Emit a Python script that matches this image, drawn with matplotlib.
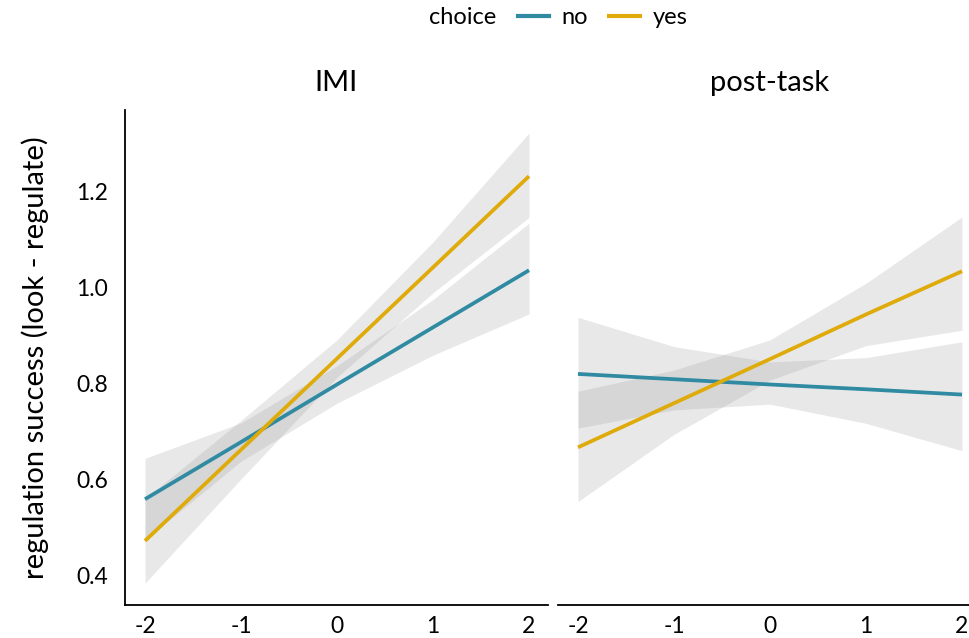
import matplotlib
matplotlib.use("Agg")
import matplotlib.pyplot as plt
from matplotlib.lines import Line2D
import numpy as np

plt.rcParams['font.family'] = ['Lato', 'DejaVu Sans']

x = [-2, -1, 0, 1, 2]
panels = ["IMI", "post-task"]
choices = ["no", "yes"]
colors = {"no": "#2f8aa2", "yes": "#dfab0a"}

# IMI
imi_no_fit = [0.558, 0.677, 0.797, 0.916, 1.035]
imi_no_lo = [0.473, 0.637, 0.758, 0.858, 0.944]
imi_no_hi = [0.643, 0.717, 0.836, 0.974, 1.133]
imi_yes_fit = [0.471, 0.661, 0.851, 1.041, 1.231]
imi_yes_lo = [0.383, 0.600, 0.812, 0.988, 1.145]
imi_yes_hi = [0.559, 0.722, 0.890, 1.094, 1.321]

# post-task
post_no_fit = [0.819, 0.808, 0.797, 0.787, 0.776]
post_no_lo = [0.706, 0.744, 0.756, 0.716, 0.659]
post_no_hi = [0.937, 0.876, 0.844, 0.853, 0.886]
post_yes_fit = [0.666, 0.758, 0.850, 0.943, 1.033]
post_yes_lo = [0.553, 0.693, 0.806, 0.878, 0.910]
post_yes_hi = [0.783, 0.827, 0.890, 1.008, 1.146]

data = {
    "IMI": {"no": (imi_no_fit, imi_no_lo, imi_no_hi),
            "yes": (imi_yes_fit, imi_yes_lo, imi_yes_hi)},
    "post-task": {"no": (post_no_fit, post_no_lo, post_no_hi),
                  "yes": (post_yes_fit, post_yes_lo, post_yes_hi)},
}

yticks = [0.4, 0.6, 0.8, 1.0, 1.2]
xticks = [-2, -1, 0, 1, 2]

W, H = 970, 638
fig = plt.figure(figsize=(W / 100, H / 100), dpi=100)

bottom = 1 - 605 / H
top = 1 - 110 / H
axw = (548 - 125) / W
ax1 = fig.add_axes([125 / W, bottom, axw, top - bottom])
ax2 = fig.add_axes([558 / W, bottom, axw, top - bottom])

for ax, panel in zip([ax1, ax2], panels):
    for c in choices:
        fit, lo, hi = data[panel][c]
        ax.fill_between(x, lo, hi, color="#999999", alpha=0.22, linewidth=0)
    for c in choices:
        fit, lo, hi = data[panel][c]
        ax.plot(x, fit, color=colors[c], linewidth=2.7, solid_capstyle='butt')
    ax.set_xlim(-2.208, 2.198)
    ax.set_ylim(0.3375, 1.369)
    ax.set_xticks(xticks)
    ax.set_xticklabels([str(v) for v in xticks])
    ax.tick_params(axis='both', length=0, labelsize=16.5, pad=8)
    for s in ['top', 'right']:
        ax.spines[s].set_visible(False)
    ax.spines['bottom'].set_linewidth(1.3)
    ax.spines['left'].set_linewidth(1.3)
    ax.set_title(panel, fontsize=21, pad=14)

ax1.set_yticks(yticks)
ax1.set_yticklabels([f"{v:.1f}" for v in yticks])
ax1.tick_params(axis='y', pad=12)
ax1.set_ylabel("regulation success (look - regulate)", fontsize=21, labelpad=20)
ax2.set_yticks([])
ax2.spines['left'].set_visible(False)

# legend
fig.text(463 / W, 1 - 18 / H, "choice", fontsize=17, ha='center', va='center')
handles = [Line2D([], [], color=colors[c], linewidth=3.0) for c in choices]
fig.legend(handles, choices, loc='center', bbox_to_anchor=(603 / W, 1 - 18 / H),
           ncol=2, frameon=False, fontsize=17, handlelength=1.3,
           columnspacing=0.9, handletextpad=0.55)

fig.savefig("out.png", dpi=100)
